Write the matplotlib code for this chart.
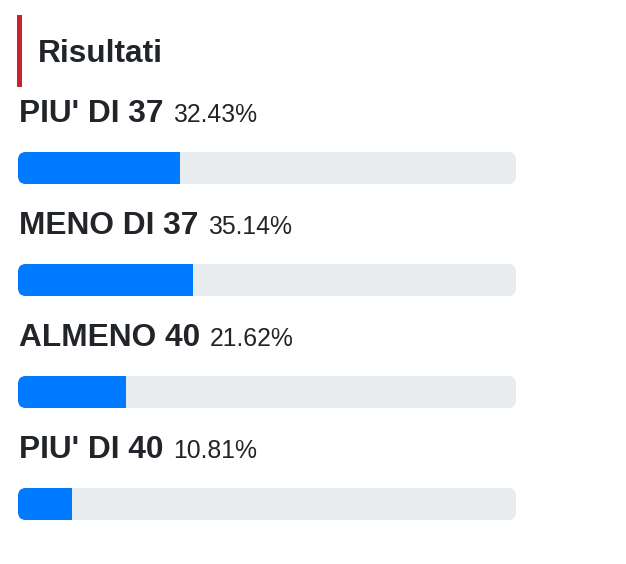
import matplotlib
matplotlib.use('Agg')
import matplotlib.pyplot as plt
import matplotlib.patches as patches

plt.rcParams['font.family'] = ['Liberation Sans', 'DejaVu Sans']

TITLE = 'Risultati'
OPTIONS = ["PIU' DI 37", 'MENO DI 37', 'ALMENO 40', "PIU' DI 40"]
PERCENTS = [32.43, 35.14, 21.62, 10.81]

_W, _H = 626, 564
_TRACK_X = 18
_TRACK_W = 498
_BAR_H = 32
_FIRST_BASE = 122   # baseline of the first label, pixels from top
_STEP = 112
_TEXT = '#212529'
_BLUE = '#007bff'
_TRACK = '#e9ecef'
_RED = '#c8232c'

fig = plt.figure(figsize=(_W / 100, _H / 100), dpi=100)
ax = fig.add_axes([0, 0, 1, 1])
ax.set_xlim(0, _W)
ax.set_ylim(_H, 0)
ax.axis('off')

# header with red accent
ax.add_patch(patches.Rectangle((17, 15), 5, 72, color=_RED, lw=0))
ax.text(38, 62, TITLE, fontsize=22.8, fontweight='bold', color=_TEXT, va='baseline')

labels = []
for i, (name, pct) in enumerate(zip(OPTIONS, PERCENTS)):
    base = _FIRST_BASE + i * _STEP
    t = ax.text(_TRACK_X + 1, base, name, fontsize=22.8, fontweight='bold',
                color=_TEXT, va='baseline')
    labels.append((t, pct, base))

    top = base + 30
    track = patches.FancyBboxPatch((_TRACK_X, top), _TRACK_W, _BAR_H,
                                   boxstyle='round,pad=0,rounding_size=8',
                                   fc=_TRACK, ec='none')
    ax.add_patch(track)
    fill = patches.FancyBboxPatch((_TRACK_X, top), _TRACK_W, _BAR_H,
                                  boxstyle='round,pad=0,rounding_size=8',
                                  fc=_BLUE, ec='none')
    ax.add_patch(fill)
    clip = patches.Rectangle((_TRACK_X, top), _TRACK_W * pct / 100, _BAR_H,
                             transform=ax.transData)
    fill.set_clip_path(clip)

# percentage text right after each label
fig.canvas.draw()
renderer = fig.canvas.get_renderer()
for t, pct, base in labels:
    bb = t.get_window_extent(renderer)
    x_end = ax.transData.inverted().transform((bb.x1, 0))[0]
    ax.text(x_end + 10, base, f'{pct:.2f}%', fontsize=17.8, color=_TEXT,
            va='baseline')

fig.savefig('out.png', dpi=100, facecolor='white')
